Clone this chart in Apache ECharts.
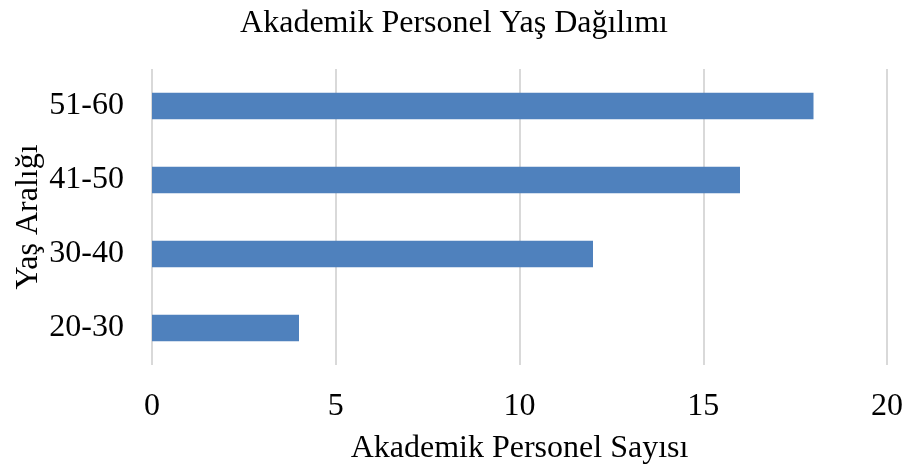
<!DOCTYPE html>
<html>
<head>
<meta charset="utf-8">
<script src="https://cdn.jsdelivr.net/npm/echarts@6/dist/echarts.min.js"></script>
<style>
html,body{margin:0;padding:0;background:#fff;}
#c{width:908px;height:468px;}
</style>
</head>
<body>
<div id="c"></div>
<script>
const categories = ['20-30', '30-40', '41-50', '51-60'];
const values = [4, 12, 16, 18];
const xTicks = [0, 5, 10, 15, 20];

const font = '"Liberation Serif", "Times New Roman", serif';
const chart = echarts.init(document.getElementById('c'), null, {renderer: 'canvas'});
chart.setOption({
  animation: false,
  backgroundColor: '#ffffff',
  title: {
    text: 'Akademik Personel Yaş Dağılımı',
    left: 'center',
    top: 3,
    textStyle: {fontFamily: font, fontSize: 32, fontWeight: 'normal', color: '#000'}
  },
  grid: {left: 152, right: 21, top: 69, bottom: 103, containLabel: false, outerBoundsMode: 'none'},
  xAxis: {
    type: 'value',
    min: xTicks[0],
    max: xTicks[xTicks.length - 1],
    interval: 5,
    name: 'Akademik Personel Sayısı',
    nameLocation: 'middle',
    nameGap: 68,
    nameMoveOverlap: false,
    nameTextStyle: {fontFamily: font, fontSize: 32, color: '#000'},
    axisLine: {show: false},
    axisTick: {show: false},
    axisLabel: {fontFamily: font, fontSize: 32, color: '#000', margin: 26},
    splitLine: {show: true, lineStyle: {color: '#d9d9d9', width: 2}}
  },
  yAxis: {
    type: 'category',
    data: categories,
    name: 'Yaş Aralığı',
    nameLocation: 'middle',
    nameGap: 107,
    nameMoveOverlap: false,
    nameTextStyle: {fontFamily: font, fontSize: 32, color: '#000'},
    axisLine: {show: false},
    axisTick: {show: false},
    axisLabel: {fontFamily: font, fontSize: 32, color: '#000', margin: 28}
  },
  series: [{
    type: 'bar',
    data: values,
    barWidth: '36%',
    itemStyle: {color: '#4f81bd'}
  }]
});
</script>
</body>
</html>
